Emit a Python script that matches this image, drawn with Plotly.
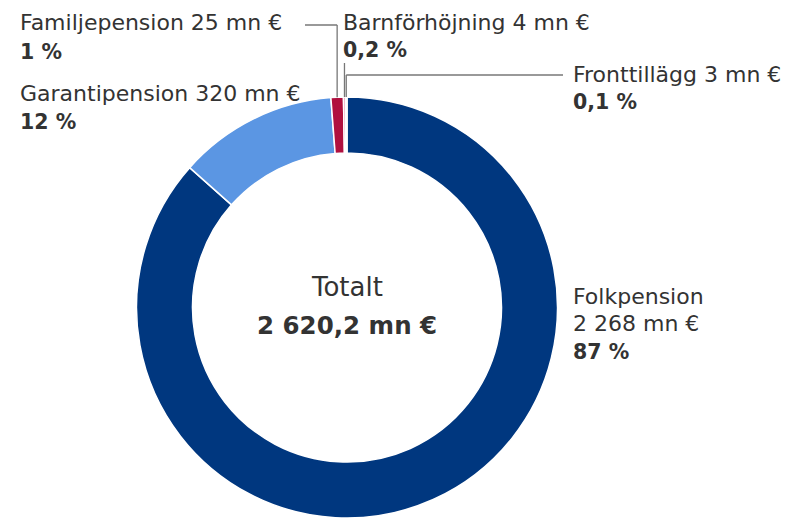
import math
import plotly.graph_objects as go

# ---- data ----
categories = ["Folkpension", "Garantipension", "Familjepension", "Barnförhöjning", "Fronttillägg"]
values_mn = [2268, 320, 25, 4, 3]
value_labels = ["2 268 mn €", "320 mn €", "25 mn €", "4 mn €", "3 mn €"]
percent_labels = ["87 %", "12 %", "1 %", "0,2 %", "0,1 %"]
total_label = "2 620,2 mn €"
colors = ["#00377f", "#5b96e3", "#b0103f", "#e0457a", "#f29ab8"]

W, H = 788, 518
CX, CY, R = 347, 308, 209
RD = R + 1.5  # domain half-size (plotly shrinks radius slightly)
HOLE = 0.734
FONT = "DejaVu Sans"
FS = 22
FSB = 20.5
TXT = "#333333"

fig = go.Figure()
fig.add_trace(go.Pie(
    labels=categories, values=values_mn, sort=False, direction="clockwise",
    rotation=0, hole=HOLE, textinfo="none", hoverinfo="label+value+percent",
    marker=dict(colors=colors, line=dict(color="white", width=1.5)),
    domain=dict(x=[(CX - RD) / W, (CX + RD) / W], y=[0, 2 * RD / H]),
    showlegend=False,
))

def ann(x, y, text, bold=False, anchor="left", size=None):
    if size is None:
        size = FSB if bold else FS
    fig.add_annotation(x=x, y=y, xref="x", yref="y", text=("<b>%s</b>" % text) if bold else text,
                       showarrow=False, xanchor=anchor, yanchor="middle",
                       font=dict(family=FONT, size=size, color=TXT))

# slice mid angles (clockwise from top)
tot = sum(values_mn)
cum = 0
mids = []
for v in values_mn:
    mids.append((cum + v / 2) / tot * 2 * math.pi)
    cum += v

def edge(i, rr=R + 2):
    a = mids[i]
    return CX + rr * math.sin(a), CY - rr * math.cos(a)

LC = "#777777"
def line(x0, y0, x1, y1):
    fig.add_shape(type="line", x0=x0, y0=y0, x1=x1, y1=y1, xref="x", yref="y",
                  line=dict(color=LC, width=1.3))

# Familjepension
ex, ey = edge(2)
line(305, 25, ex, 25); line(ex, 25, ex, ey)
ann(18, 22, categories[2] + " " + value_labels[2])
ann(18, 52, percent_labels[2], bold=True)
# Garantipension
ann(18, 93, categories[1] + " " + value_labels[1])
ann(18, 122, percent_labels[1], bold=True)
# Barnförhöjning
ex, ey = edge(3)
line(ex, 63, ex, ey)
ann(341, 22, categories[3] + " " + value_labels[3])
ann(341, 50, percent_labels[3], bold=True)
# Fronttillägg
ex, ey = edge(4)
line(ex, ey, ex, 75); line(ex, 75, 563, 75)
ann(571, 74, categories[4] + " " + value_labels[4])
ann(571, 102, percent_labels[4], bold=True)
# Folkpension
ann(571, 296, categories[0])
ann(571, 323, value_labels[0])
ann(571, 352, percent_labels[0], bold=True)
# Total
ann(CX, 287, "Totalt", anchor="center", size=26)
ann(CX, 325, total_label, bold=True, anchor="center", size=24.5)

fig.update_layout(
    width=W, height=H, margin=dict(l=0, r=0, t=0, b=0),
    paper_bgcolor="white", plot_bgcolor="rgba(0,0,0,0)",
    xaxis=dict(range=[0, W], visible=False, fixedrange=True),
    yaxis=dict(range=[H, 0], visible=False, fixedrange=True),
)
fig.write_html("out.html", config={"displayModeBar": False})
with open("out.html", encoding="utf-8") as f:
    html = f.read()
html = html.replace("<body>", '<body style="margin:0">', 1)
with open("out.html", "w", encoding="utf-8") as f:
    f.write(html)
